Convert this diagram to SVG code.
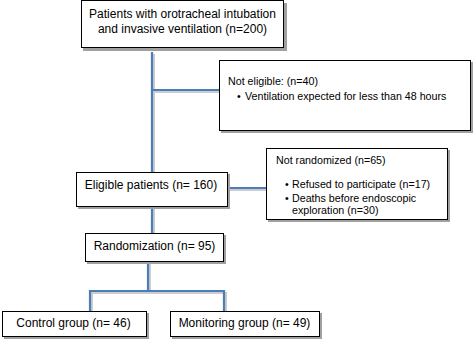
<svg xmlns="http://www.w3.org/2000/svg" width="474" height="355" viewBox="0 0 474 355">
<style>
.box{fill:#fff;stroke:#000;stroke-width:1}
.sh{fill:#a0a0a0}
text{font-family:"Liberation Sans",Arial,sans-serif;font-size:12px;fill:#000}
.s{font-size:10.7px}
.c{text-anchor:middle}
.ln{fill:none;stroke:#4a7ebb;stroke-width:2.2}
.lsh{fill:none;stroke:#cccccc;stroke-width:2}
</style>
<rect width="474" height="355" fill="#fff"/>
<g id="connectors">
<path class="lsh" d="M154 54V173M154 92H220M230 190H267M154 209V234M150 264V293H92V312M150 293H226V312"/>
<path class="ln" d="M152 52V172M152 90H219M228 188H266M152 207V233M148 262V291H90V311M148 291H224V311"/>
</g>
<g id="n1">
<rect class="sh" x="83" y="3" width="204" height="48"/>
<rect class="box" x="81.5" y="0.5" width="202" height="47"/>
<text class="c" x="182.5" y="17.5">Patients with orotracheal intubation</text>
<text class="c" x="182.5" y="33">and invasive ventilation (n=200)</text>
</g>
<g id="n2">
<rect class="sh" x="221" y="62" width="252" height="71"/>
<rect class="box" x="219.5" y="60.5" width="251" height="70"/>
<text class="s" x="228" y="85">Not eligible: (n=40)</text>
<text class="s" x="237" y="100">•</text>
<text class="s" x="245" y="100">Ventilation expected for less than 48 hours</text>
</g>
<g id="n3">
<rect class="sh" x="78" y="174" width="152" height="35"/>
<rect class="box" x="76.5" y="172.5" width="151" height="34"/>
<text class="c" x="151" y="188.5">Eligible patients (n= 160)</text>
</g>
<g id="n4">
<rect class="sh" x="268" y="150" width="182" height="72"/>
<rect class="box" x="266.5" y="148.5" width="181" height="71"/>
<text class="s" x="276" y="164">Not randomized (n=65)</text>
<text class="s" x="285" y="188">•</text>
<text class="s" x="292" y="188">Refused to participate (n=17)</text>
<text class="s" x="285" y="201.5">•</text>
<text class="s" x="292" y="201.5">Deaths before endoscopic</text>
<text class="s" x="292" y="214">exploration (n=30)</text>
</g>
<g id="n5">
<rect class="sh" x="87" y="235" width="139" height="29"/>
<rect class="box" x="85.5" y="233.5" width="138" height="28"/>
<text class="c" x="154.5" y="249.5">Randomization (n= 95)</text>
</g>
<g id="n6">
<rect class="sh" x="4" y="313" width="145" height="26"/>
<rect class="box" x="2.5" y="311.5" width="144" height="25"/>
<text class="c" x="73.5" y="327">Control group (n= 46)</text>
</g>
<g id="n7">
<rect class="sh" x="172" y="313" width="150" height="26"/>
<rect class="box" x="170.5" y="311.5" width="149" height="25"/>
<text class="c" x="244.5" y="327">Monitoring group (n= 49)</text>
</g>
</svg>
